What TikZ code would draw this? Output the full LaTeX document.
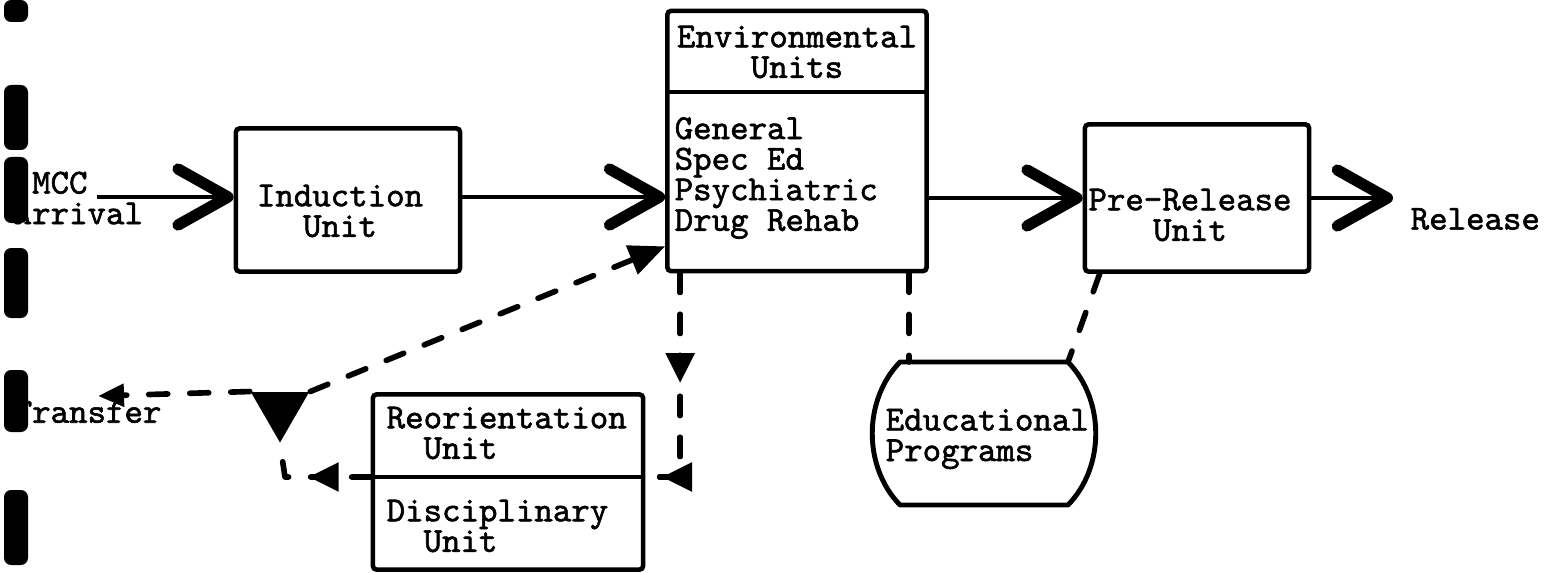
\documentclass[tikz,border=0pt]{standalone}
\usepackage{fontspec}
\newfontfamily\typer[FakeBold=1.6]{Latin Modern Mono}
\usetikzlibrary{arrows.meta,shapes.geometric,decorations.markings}

\newcommand{\tw}{\fontsize{10}{8.7}\selectfont\typer}

\tikzset{
  unitbox/.style={draw, line width=1.3pt, inner sep=0pt, rounded corners=1pt},
  lbl/.style={font=\tw, inner sep=0pt},
  flow/.style={line width=1.2pt, -{Straight Barb[length=5mm,width=5.6mm,line width=3.2pt,round]}},
  dashline/.style={line width=1.6pt, line cap=round, line join=round, dash pattern=on 0.19cm off 0.22cm},
  junct/.style={regular polygon, regular polygon sides=3, shape border rotate=180, fill, inner sep=0pt, minimum size=0.67cm},
  midtip/.style={postaction={decorate}, decoration={markings, mark=at position #1 with {\arrow{Triangle[length=3mm,width=2.8mm]}}}}
}

\begin{document}
\begin{tikzpicture}[x=0.01cm, y=-0.01cm]
\useasboundingbox (0,0) rectangle (1558,573);

% boxes
\node[unitbox, minimum width=2.24cm, minimum height=1.43cm] (ind) at (348,200) {};
\node[unitbox, minimum width=2.59cm, minimum height=2.60cm] (env) at (797,141) {};
\node[unitbox, minimum width=2.24cm, minimum height=1.47cm] (pre) at (1197,198) {};
\node[unitbox, minimum width=2.70cm, minimum height=1.75cm] (reor) at (508,482) {};
\coordinate (envdiv) at (797,92);
\coordinate (reordiv) at (508,477);
\draw[line width=1.3pt] (env.west |- envdiv) -- (env.east |- envdiv);
\draw[line width=1.3pt] (reor.west |- reordiv) -- (reor.east |- reordiv);

% texts
\node[lbl, align=center] (indtxt) at (340,211) {Induction\\Unit};
\node[lbl, align=center] (envhead) at (797,52) {Environmental\\Units};
\node[lbl, align=left, anchor=west] (envlist) at (674,178) {General\\Spec Ed\\Psychiatric\\Drug Rehab};
\node[lbl, align=center] (pretxt) at (1190,215) {Pre-Release\\Unit};
\node[lbl, align=left, anchor=west] (reortxt) at (386,433) {Reorientation\\\phantom{Re}Unit};
\node[lbl, align=left, anchor=west] (disctxt) at (386,526) {Disciplinary\\\phantom{Di}Unit};
\node[lbl, align=left, anchor=west] (edutxt) at (885,439) {Educational\\Programs};
\node[lbl, align=left, anchor=west] (arrtxt) at (13,198) {\phantom{A}MCC\\Arrival};
\node[lbl, anchor=west] (trftxt) at (13,412) {Transfer};
\node[lbl, anchor=west] (reltxt) at (1410,219) {Release};

% educational programs
\coordinate (edutl) at (900,362);
\coordinate (edutr) at (1068,362);
\coordinate (edubr) at (1068,505);
\coordinate (edubl) at (900,505);
\draw[line width=1.4pt, line cap=round, line join=round] (edutl) -- (edutr)
  .. controls (1105,400) and (1105,467) .. (edubr) -- (edubl)
  .. controls (863,467) and (863,400) .. (edutl);

\node[junct] (jn) at (280,409) {};

% main flow
\coordinate (mccout) at (97,197);
\coordinate (relin) at (1393,198);
\draw[flow] (mccout) -- (ind.west |- mccout);
\draw[flow] (ind.east |- mccout) -- (env.west |- mccout);
\draw[flow] (env.east |- relin) -- (pre.west |- relin);
\draw[flow] (pre.east |- relin) -- (relin);

% dashed links
\draw[dashline, midtip=0.46] ([xshift=0.15cm]env.south west) |- (reor.east |- reordiv);
\draw[dashline, midtip=0.93] ([xshift=0.15cm]env.south west) |- (reor.east |- reordiv);
\coordinate (reorcorner) at (285,477);
\draw[dashline, midtip=0.52] (reor.west |- reordiv) -- (reorcorner) -- (jn.270);
\coordinate (trfin) at (98,396);
\draw[dashline, -{Triangle[length=2.6mm,width=2.2mm]}] (jn.150) -- (trfin);
\draw[dashline, -{Triangle[length=3.6mm,width=3mm]}] (jn.30) -- ([yshift=0.27cm]env.south west);
\coordinate (eduleft) at (909,362);
\draw[dashline] (eduleft |- env.south) -- (eduleft);
\draw[dashline] ([xshift=0.17cm]pre.south west) -- (edutr);

% binder marks
\foreach \ya/\yb in {0/22, 85/150, 157/223, 248/318, 370/432, 490/565}
  \fill[rounded corners=2pt] (4,\ya) rectangle (28,\yb);
\end{tikzpicture}
\end{document}
